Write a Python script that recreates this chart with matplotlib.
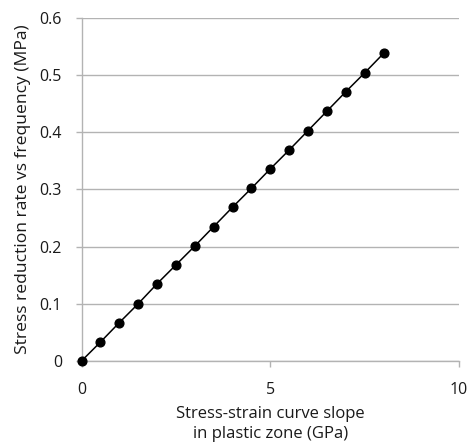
import matplotlib
matplotlib.use('Agg')
import matplotlib.pyplot as plt

# data
slope_gpa = [0, 0.5, 1.0, 1.5, 2.0, 2.5, 3.0, 3.5, 4.0, 4.5, 5.0, 5.5, 6.0, 6.5, 7.0, 7.5, 8.0]
reduction_mpa = [0, 0.033, 0.067, 0.100, 0.135, 0.168, 0.201, 0.235, 0.269, 0.302,
                 0.336, 0.369, 0.403, 0.437, 0.471, 0.504, 0.538]
x_ticks = [0, 5, 10]
y_ticks = [0, 0.1, 0.2, 0.3, 0.4, 0.5, 0.6]
y_tick_labels = ['0', '0.1', '0.2', '0.3', '0.4', '0.5', '0.6']

plt.rcParams['font.family'] = ['Open Sans', 'DejaVu Sans']
grey = '#b3b3b3'

fig = plt.figure(figsize=(4.69, 4.44), dpi=100)
ax = fig.add_axes([0.1738, 0.187, 0.805, 0.7725])

ax.plot(slope_gpa, reduction_mpa, color='black', linewidth=1.1,
        marker='o', markersize=6.3, zorder=3, clip_on=False)

ax.set_xlim(0, 10)
ax.set_ylim(0, 0.6)
ax.set_xticks(x_ticks)
ax.set_yticks(y_ticks)
ax.set_yticklabels(y_tick_labels)

ax.yaxis.grid(True, color=grey, linewidth=1.0)
ax.set_axisbelow(True)
for side in ['top', 'right']:
  ax.spines[side].set_visible(False)
for side in ['left', 'bottom']:
  ax.spines[side].set_color(grey)
  ax.spines[side].set_linewidth(1.0)

ax.tick_params(axis='both', colors=grey, labelcolor='#1a1a1a', labelsize=11.5,
               length=4, width=1.0)
ax.tick_params(axis='y', pad=10)
ax.tick_params(axis='x', pad=11)

ax.set_xlabel('Stress-strain curve slope\nin plastic zone (GPa)', fontsize=12,
              labelpad=6, linespacing=1.3, color='#1a1a1a')
ax.set_ylabel('Stress reduction rate vs frequency (MPa)', fontsize=12.6,
              labelpad=6, color='#1a1a1a')

fig.savefig('out.png', dpi=100)
